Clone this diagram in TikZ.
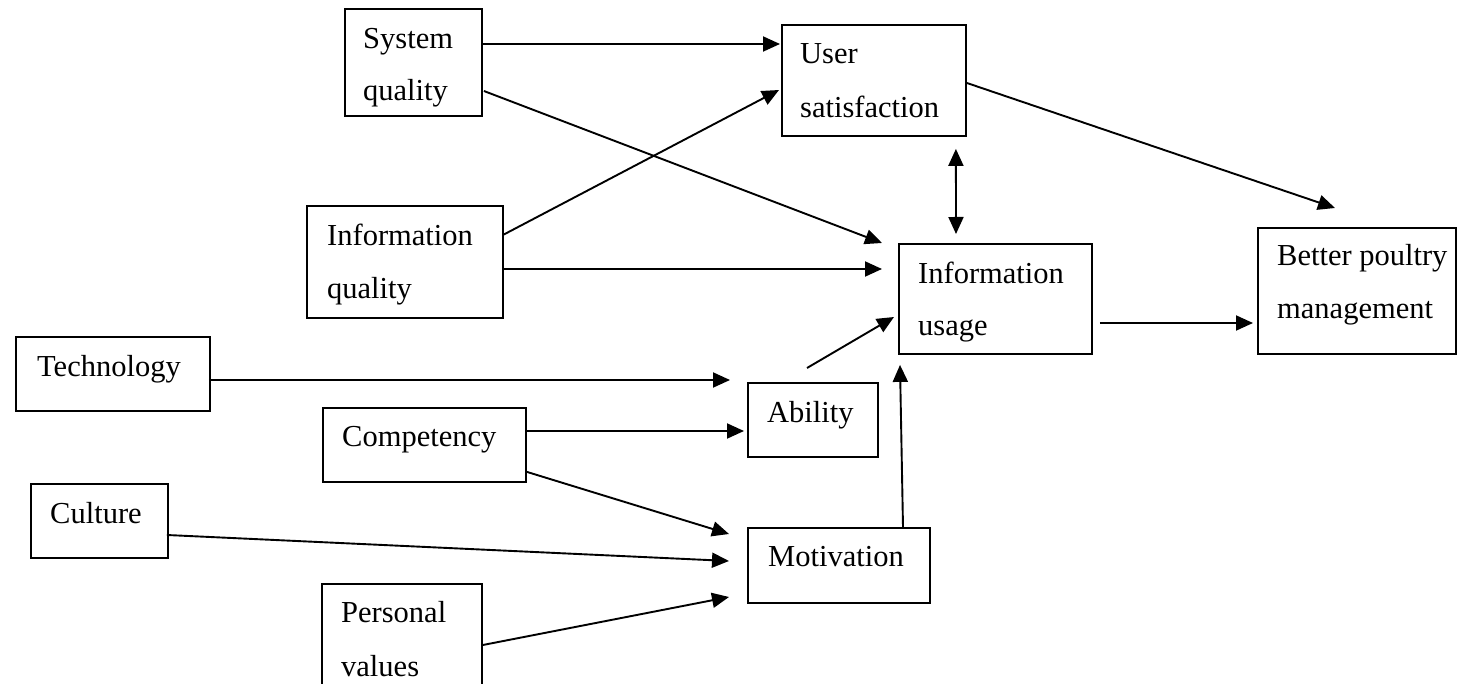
\documentclass[tikz,border=0pt]{standalone}
\usepackage{fontspec}
\setmainfont{Liberation Serif}
\usetikzlibrary{arrows.meta,calc}
\begin{document}
\begin{tikzpicture}[x=1pt,y=-1pt,
  box/.style={draw,line width=1.9pt,rectangle,inner sep=0pt,anchor=north west},
  txt/.style={anchor=base west,inner sep=0pt,font=\fontsize{30.5}{36}\selectfont},
  arr/.style={line width=1.9pt,-{Triangle[length=17pt,width=15pt]}},
  darr/.style={line width=1.9pt,{Triangle[length=17pt,width=15pt]}-{Triangle[length=17pt,width=15pt]}}]
\useasboundingbox (0,0) rectangle (1457,684);
\clip (0,0) rectangle (1457,684);
% boxes
\node[box,minimum width=137pt,minimum height=107pt] (sq) at (344,8) {};
\node[box,minimum width=184pt,minimum height=111pt] (us) at (781,24) {};
\node[box,minimum width=196pt,minimum height=112pt] (iq) at (306,205) {};
\node[box,minimum width=193pt,minimum height=110pt] (iu) at (898,243) {};
\node[box,minimum width=198pt,minimum height=126pt] (bp) at (1257,227) {};
\node[box,minimum width=194pt,minimum height=74pt] (te) at (15,336) {};
\node[box,minimum width=203pt,minimum height=74pt] (co) at (322,407) {};
\node[box,minimum width=130pt,minimum height=74pt] (ab) at (747,382) {};
\node[box,minimum width=137pt,minimum height=74pt] (cu) at (30,483) {};
\node[box,minimum width=182pt,minimum height=75pt] (mo) at (747,527) {};
\node[box,minimum width=160pt,minimum height=120pt] (pv) at (321,583) {};
% texts
\node[txt] (sqa) at (363,49) {System};
\node[txt] (sqb) at (363,101) {quality};
\node[txt] (usa) at (800,64) {User};
\node[txt] (usb) at (800,118) {satisfaction};
\node[txt] (iqa) at (327,246) {Information};
\node[txt] (iqb) at (327,299) {quality};
\node[txt] (iua) at (918,284) {Information};
\node[txt] (iub) at (918,336) {usage};
\node[txt] (bpa) at (1277,266) {Better poultry};
\node[txt] (bpb) at (1277,319) {management};
\node[txt] (tea) at (37,377) {Technology};
\node[txt] (coa) at (342,447) {Competency};
\node[txt] (aba) at (767,423) {Ability};
\node[txt] (cua) at (50,523) {Culture};
\node[txt] (moa) at (768,566) {Motivation};
\node[txt] (pva) at (341,622) {Personal};
\node[txt] (pvb) at (341,676) {values};
% connectors
\draw[arr] ($(sq.north east)+(0,36)$) -- ($(us.north west)+(-1,20)$);
\draw[arr] ($(sq.north east)+(1,83)$) -- ($(iu.north west)+(-16,0)$);
\draw[arr] ($(iq.north east)+(-1,30)$) -- ($(us.north west)+(-2,66)$);
\draw[arr] ($(iq.north east)+(-1,64)$) -- ($(iu.north west)+(-16,26)$);
\draw[darr] ($(us.south east)+(-11,12)$) -- ($(iu.north west)+(58,-9)$);
\draw[arr] ($(us.north east)+(0,59)$) -- ($(bp.north west)+(78,-19)$);
\draw[arr] ($(iu.north east)+(7,80)$) -- ($(bp.north west)+(-4,96)$);
\draw[arr] ($(te.north east)+(-2,44)$) -- ($(ab.north west)+(-17,-2)$);
\draw[arr] ($(co.north east)+(0,24)$) -- ($(ab.north west)+(-3,49)$);
\draw[arr] ($(ab.north west)+(60,-14)$) -- ($(iu.north west)+(-4,74)$);
\draw[arr] ($(co.south east)+(0,-11)$) -- ($(mo.north west)+(-18,7)$);
\draw[arr] ($(cu.north east)+(-2,52)$) -- ($(mo.north west)+(-18,34)$);
\draw[arr] ($(pv.north east)+(0,62)$) -- ($(mo.north west)+(-18,70)$);
\draw[arr] ($(mo.north west)+(156,0)$) -- ($(iu.south west)+(2,10)$);
\end{tikzpicture}
\end{document}
